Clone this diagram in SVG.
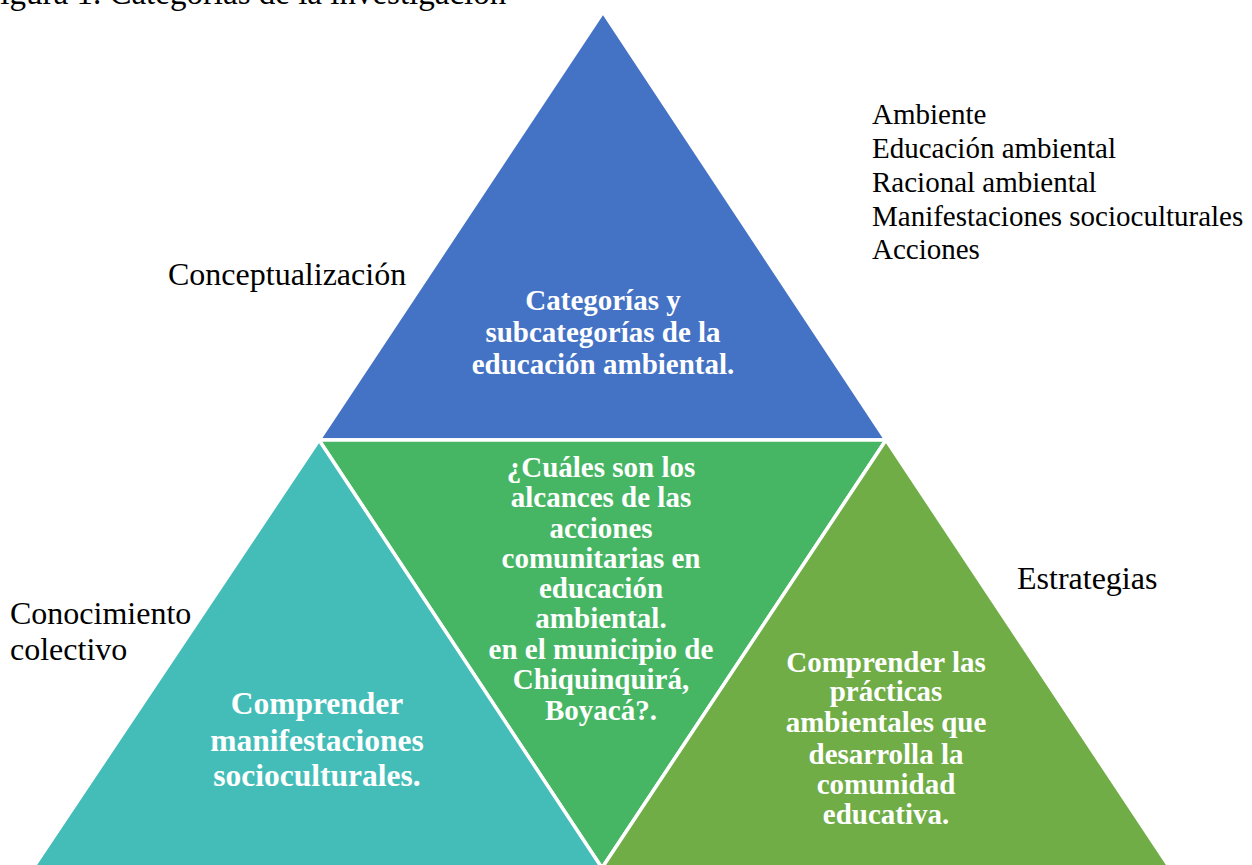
<svg xmlns="http://www.w3.org/2000/svg" width="1252" height="865" viewBox="0 0 1252 865">
<style>
.tri{stroke:#FFFFFF;stroke-width:3.5;stroke-linejoin:miter}
.in{font-family:"Liberation Serif","Times New Roman",serif;font-weight:bold;fill:#FFFFFF;text-anchor:middle;font-size:29px}
.big{font-size:31.5px}
.out{font-family:"Liberation Serif","Times New Roman",serif;fill:#000000;font-size:32px}
.cap{font-size:33px}
.list{font-family:"Liberation Serif","Times New Roman",serif;fill:#000000;font-size:29px}
</style>
<rect width="1252" height="865" fill="#FFFFFF"/>
<text class="out cap" x="-18" y="4">Figura 1. Categorías de la investigación</text>
<g id="node-top">
<polygon class="tri" points="603,12 319,440 886,440" fill="#4472C4"/>
<text class="in" x="603" y="310">Categorías y</text>
<text class="in" x="603" y="342">subcategorías de la</text>
<text class="in" x="603" y="374">educación ambiental.</text>
</g>
<g id="node-center">
<polygon class="tri" points="319,440 886,440 602,868" fill="#47B664"/>
<text class="in" x="601" y="477">¿Cuáles son los</text>
<text class="in" x="601" y="507">alcances de las</text>
<text class="in" x="601" y="538">acciones</text>
<text class="in" x="601" y="568">comunitarias en</text>
<text class="in" x="601" y="598">educación</text>
<text class="in" x="601" y="628">ambiental.</text>
<text class="in" x="601" y="659">en el municipio de</text>
<text class="in" x="601" y="689">Chiquinquirá,</text>
<text class="in" x="601" y="720">Boyacá?.</text>
</g>
<g id="node-left">
<polygon class="tri" points="319,440 602,868 33,868" fill="#44BDB8"/>
<text class="in big" x="317" y="714">Comprender</text>
<text class="in big" x="317" y="751">manifestaciones</text>
<text class="in big" x="317" y="786">socioculturales.</text>
</g>
<g id="node-right">
<polygon class="tri" points="886,440 1170,868 602,868" fill="#70AD47"/>
<text class="in" x="886" y="672">Comprender las</text>
<text class="in" x="886" y="701">prácticas</text>
<text class="in" x="886" y="732">ambientales que</text>
<text class="in" x="886" y="764">desarrolla la</text>
<text class="in" x="886" y="794">comunidad</text>
<text class="in" x="886" y="824">educativa.</text>
</g>
<g id="labels">
<text class="out" x="168" y="285">Conceptualización</text>
<text class="out" x="1017" y="589">Estrategias</text>
<text class="out" x="10" y="624">Conocimiento</text>
<text class="out" x="10" y="660">colectivo</text>
<text class="list" x="872" y="124">Ambiente</text>
<text class="list" x="872" y="158">Educación ambiental</text>
<text class="list" x="872" y="192">Racional ambiental</text>
<text class="list" x="872" y="226">Manifestaciones socioculturales</text>
<text class="list" x="872" y="259">Acciones</text>
</g>
<g id="connectors"></g>
</svg>
